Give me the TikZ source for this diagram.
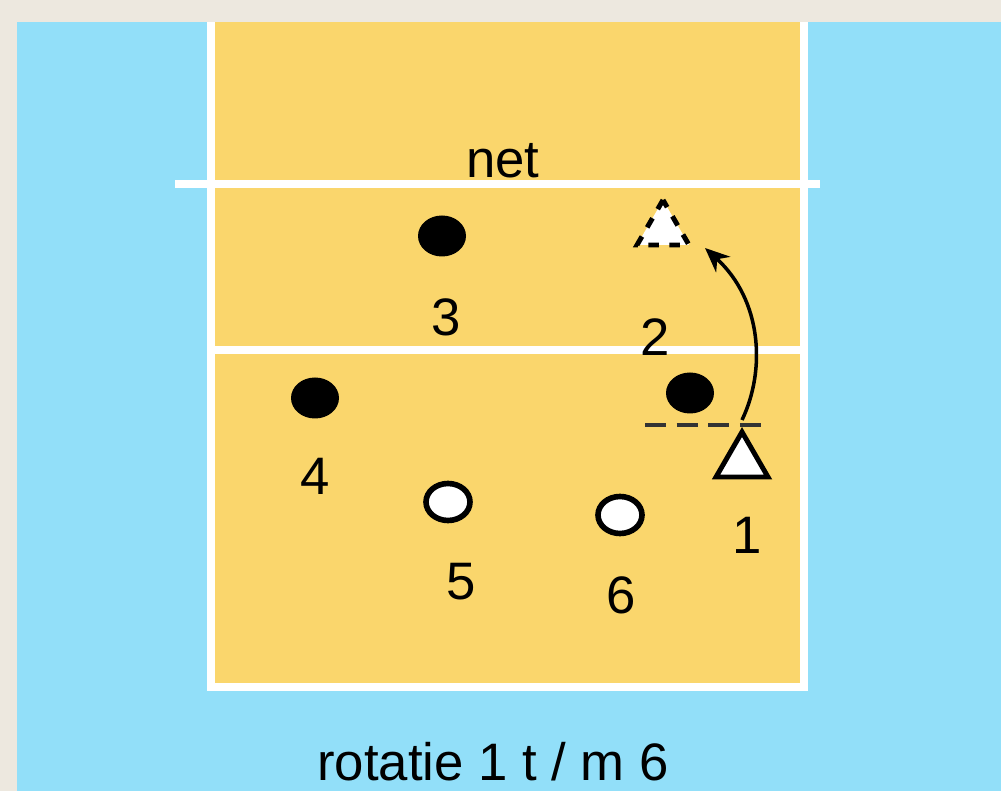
\documentclass[tikz,border=0pt]{standalone}
\usepackage{fontspec}
\setmainfont{Liberation Sans}
\usetikzlibrary{shapes.geometric,arrows.meta}
\definecolor{frame}{HTML}{EDE8DF}
\definecolor{sky}{HTML}{92DFF9}
\definecolor{court}{HTML}{FAD66C}
\begin{document}
\begin{tikzpicture}[x=0.1mm, y=-0.1mm, every node/.style={font=\fontsize{15}{18}\selectfont},
  filled/.style={ellipse, fill=black, minimum width=0.48cm, minimum height=0.41cm, inner sep=0pt},
  hollow/.style={ellipse, draw=black, line width=1.6pt, fill=white, minimum width=0.44cm, minimum height=0.37cm, inner sep=0pt},
  setter/.style={regular polygon, regular polygon sides=3, draw=black, line width=1.4pt, fill=white, minimum size=0.6cm, inner sep=0pt},
  courtline/.style={white, line width=2pt}]
  % background and court
  \fill[frame] (0,0) rectangle (1001,791);
  \fill[sky] (17,22) rectangle (1001,791);
  \fill[court] (211,22) rectangle (804,687);
  \draw[courtline] (211,22) -- (211,687) -- (804,687) -- (804,22);
  \draw[courtline] (175,184) -- (820,184);
  \draw[courtline] (211,350) -- (804,350);
  \useasboundingbox (0,0) rectangle (1001,791);
  % players
  \node[filled] (p3) at (442,236) {};
  \node[filled] (p4) at (315,398) {};
  \node[filled] (p2) at (690,393) {};
  \node[hollow] (p5) at (448,502) {};
  \node[hollow] (p6) at (620,515) {};
  \node[setter, dashed] (s2) at (663,230) {};
  \node[setter] (s1) at (742,462) {};
  \draw[black!80, dashed, line width=1.4pt, dash pattern=on 6pt off 3pt] (645,425) -- (766,425);
  % setter run
  \coordinate (from) at (742,420);
  \coordinate (to) at (705,248);
  \draw[-{Stealth[length=7pt,width=6pt]}, line width=1pt] (from) .. controls (766,370) and (762,300) .. (to);
  % labels
  \node (net) at (503,161) {net};
  \node (l3) at (446,317) {3};
  \node (l2) at (655,337) {2};
  \node (l4) at (315,476) {4};
  \node (l5) at (461,582) {5};
  \node (l6) at (621,595) {6};
  \node (l1) at (747,535) {1};
  \node (title) at (493,762) {rotatie 1 t / m 6};
\end{tikzpicture}
\end{document}
